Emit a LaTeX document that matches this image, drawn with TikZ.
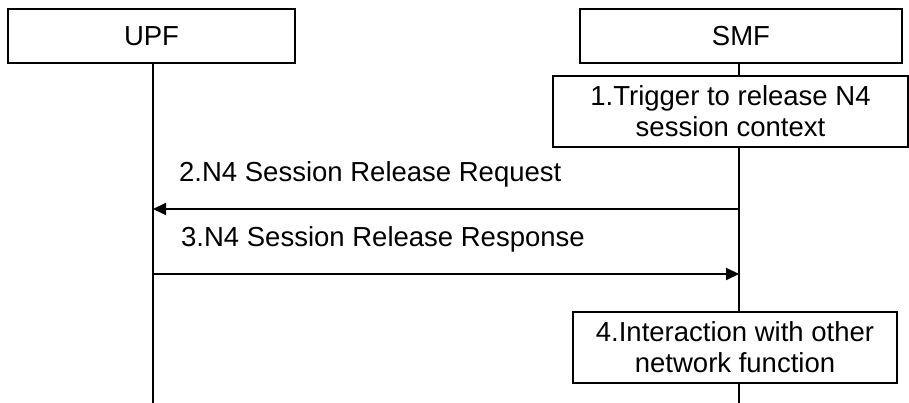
\documentclass[tikz,border=0pt]{standalone}
\usepackage{fontspec}
\setmainfont{Liberation Sans}
\usetikzlibrary{arrows.meta}
\begin{document}
\begin{tikzpicture}[x=1pt,y=-1pt,
  ent/.style={draw,line width=1.4pt,inner sep=0pt,font=\fontsize{27.5}{31}\selectfont,align=center},
  life/.style={line width=1.1pt},
  msg/.style={line width=2pt,-{Triangle[length=13pt,width=12pt]}},
  lbl/.style={anchor=base west,inner sep=0pt,font=\fontsize{27.5}{31}\selectfont}]
\useasboundingbox (0,0) rectangle (909,403);
\node[ent,minimum width=287pt,minimum height=54pt] (upf) at (151.5,36) {UPF};
\node[ent,minimum width=322pt,minimum height=54pt] (smf) at (741,36) {SMF};
\node[ent,minimum width=355pt,minimum height=71pt] (s1) at (730.5,111.5) {1.Trigger to release N4\\session context};
\node[ent,minimum width=324pt,minimum height=71pt] (s4) at (735,347.5) {4.Interaction with other\\network function};
\coordinate (ub) at (153,403);
\coordinate (sb) at (739,403);
\coordinate (u2) at (153,209);
\coordinate (s2) at (739,209);
\coordinate (u3) at (153,274);
\coordinate (s3) at (739,274);
\draw[life] (upf.south -| ub) -- (ub);
\draw[life] (smf.south -| sb) -- (s1.north -| sb);
\draw[life] (s1.south -| sb) -- (s4.north -| sb);
\draw[life] (s4.south -| sb) -- (sb);
\draw[msg] (s2) -- (u2);
\draw[msg] (u3) -- (s3);
\node[lbl] (l2) at (179,182) {2.N4 Session Release Request};
\node[lbl] (l3) at (181,247) {3.N4 Session Release Response};
\end{tikzpicture}
\end{document}
